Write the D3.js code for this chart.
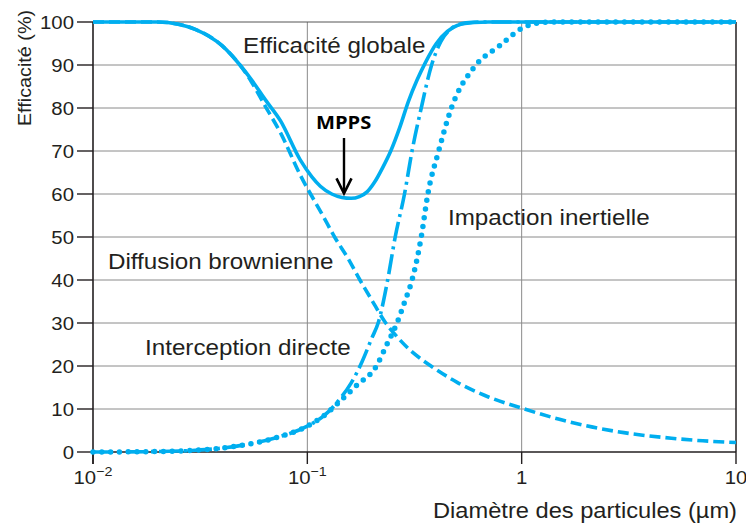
<!DOCTYPE html>
<html><head><meta charset="utf-8">
<script src="https://cdn.jsdelivr.net/npm/d3@7"></script>
<style>
html,body{margin:0;padding:0;background:#fff;}
svg{display:block;}
</style></head>
<body>
<svg id="chart" width="746" height="525"></svg>
<script>
// ---- data (diameter µm, efficiency %) ----
const globale = [[0.01,100],[0.02,100],[0.025,99.5],[0.03,98.3],[0.04,94.5],[0.0485,90],[0.055,86.5],[0.0635,82],[0.075,77],[0.0925,68],[0.105,64],[0.115,61.8],[0.13,60],[0.145,59.2],[0.16,59],[0.175,59.4],[0.19,60.5],[0.205,62.6],[0.225,66.2],[0.245,70],[0.27,75.5],[0.296,81.5],[0.325,86.5],[0.355,90.5],[0.4,95],[0.45,97.8],[0.5,99.2],[0.6,99.9],[0.7,100],[10,100]];
const diffusion = [[0.01,100],[0.02,100],[0.025,99.5],[0.03,98.3],[0.04,94.5],[0.0485,90],[0.055,86],[0.0635,80.5],[0.075,74.2],[0.0925,64.5],[0.119,54.7],[0.134,50],[0.155,45],[0.176,40],[0.2,35.3],[0.23,30.3],[0.26,27],[0.3,23.8],[0.34,21.6],[0.38,19.9],[0.5,16.2],[0.7,12.8],[1,10.2],[1.5,7.6],[2,6.1],[3,4.5],[5,3.2],[7,2.6],[10,2.2]];
const interception = [[0.01,0],[0.02,0.1],[0.03,0.4],[0.04,0.9],[0.05,1.6],[0.07,3.2],[0.1,6],[0.12,8.5],[0.14,12],[0.16,16],[0.18,21],[0.2,26.5],[0.214,30],[0.237,40],[0.257,50],[0.284,60],[0.308,70],[0.34,80],[0.38,90],[0.42,95.5],[0.47,98.5],[0.55,99.8],[0.65,100],[10,100]];
const impaction = [[0.01,0],[0.02,0.1],[0.03,0.4],[0.04,0.9],[0.05,1.6],[0.07,3.2],[0.1,6],[0.12,8.5],[0.14,11.5],[0.17,15.5],[0.21,20],[0.235,25],[0.262,30],[0.285,35],[0.308,40],[0.34,50],[0.365,60],[0.41,70],[0.47,80],[0.6,89.5],[0.79,94.5],[1,98.5],[1.2,99.8],[1.4,100],[10,100]];
const yTicks = [0,10,20,30,40,50,60,70,80,90,100];
const xTicks = [0.01,0.1,1,10];
const xTickBase = ["10","10","1","10"];
const xTickExp = ["\u22122","\u22121","",""];
const mpps = {d:0.16, e:59};

// ---- layout ----
const svg = d3.select("#chart");
const x = d3.scaleLog().domain([0.01,10]).range([93,736]);
const y = d3.scaleLinear().domain([0,100]).range([452,22]);
const blue = "#00aeef", ink = "#231f20", grid = "#8a8a8a";
const FONT = "'Liberation Sans', Arial, sans-serif";
const SX = 1.1;

function label(px, py, txt, size, anchor, weight, rot){
  const g = svg.append("g").attr("transform", `translate(${px},${py})` + (rot ? ` rotate(${rot})` : ""));
  return g.append("text").attr("transform", `scale(${SX},1)`)
    .attr("font-family", FONT).attr("font-size", size).attr("fill", ink)
    .attr("text-anchor", anchor || "start").attr("font-weight", weight || "normal")
    .text(txt);
}

// grid
svg.append("g").selectAll("line").data(yTicks.filter(v=>v>0 && v<100)).join("line")
  .attr("x1", x(0.01)).attr("x2", x(10)).attr("y1", d=>y(d)).attr("y2", d=>y(d))
  .attr("stroke", grid).attr("stroke-width", 1);
svg.append("g").selectAll("line").data([0.1,1]).join("line")
  .attr("x1", d=>x(d)).attr("x2", d=>x(d)).attr("y1", y(0)).attr("y2", y(100))
  .attr("stroke", grid).attr("stroke-width", 1);
// frame top & right
svg.append("line").attr("x1", x(0.01)).attr("x2", x(10)).attr("y1", y(100)).attr("y2", y(100)).attr("stroke", "#555").attr("stroke-width", 1);
svg.append("line").attr("x1", x(10)).attr("x2", x(10)).attr("y1", y(100)).attr("y2", y(0)).attr("stroke", ink).attr("stroke-width", 1.5);

// axes lines
svg.append("line").attr("x1", x(0.01)).attr("x2", x(0.01)).attr("y1", y(100)).attr("y2", y(0)+12).attr("stroke", ink).attr("stroke-width", 1.6);
svg.append("line").attr("x1", x(0.01)).attr("x2", x(10)).attr("y1", y(0)).attr("y2", y(0)).attr("stroke", ink).attr("stroke-width", 1.6);
// y ticks
svg.append("g").selectAll("line").data(yTicks).join("line")
  .attr("x1", x(0.01)-16).attr("x2", x(0.01)).attr("y1", d=>y(d)).attr("y2", d=>y(d))
  .attr("stroke", ink).attr("stroke-width", 1.4);
yTicks.forEach(v => label(x(0.01)-19, y(v)+6.5, String(v), 18.5, "end"));
// x ticks
svg.append("g").selectAll("line").data(xTicks).join("line")
  .attr("x1", d=>x(d)).attr("x2", d=>x(d)).attr("y1", y(0)).attr("y2", y(0)+12)
  .attr("stroke", ink).attr("stroke-width", 1.4);
xTicks.forEach((v,i) => {
  const t = label(x(v), 484, "", 18.5, "middle");
  t.append("tspan").text(xTickBase[i]);
  if (xTickExp[i]) t.append("tspan").attr("font-size", 13).attr("dy", -8).text(xTickExp[i]);
});

// axis titles
label(31, 68, "Efficacité (%)", 18, "middle", "normal", -90);
label(737, 518, "Diamètre des particules (µm)", 21.5, "end");

// curves
const line = d3.line().x(d=>x(d[0])).y(d=>y(d[1])).curve(d3.curveMonotoneX);
svg.append("path").datum(globale).attr("d", line).attr("fill","none")
  .attr("stroke", blue).attr("stroke-width", 3.6);
svg.append("path").datum(diffusion).attr("d", line).attr("fill","none")
  .attr("stroke", blue).attr("stroke-width", 3.6).attr("stroke-dasharray", "11,5");
svg.append("path").datum(interception).attr("d", line).attr("fill","none")
  .attr("stroke", blue).attr("stroke-width", 3.6).attr("stroke-dasharray", "20,5,3,5");
svg.append("path").datum(impaction).attr("d", line).attr("fill","none")
  .attr("stroke", blue).attr("stroke-width", 5.5).attr("stroke-linecap","round").attr("stroke-dasharray", "0,8.8");

// curve labels
label(243, 53, "Efficacité globale", 22);
label(108, 269, "Diffusion brownienne", 22);
label(448, 225, "Impaction inertielle", 22);
label(145, 355, "Interception directe", 22);

// MPPS
svg.append("g").attr("transform", "translate(316,129)")
  .append("text").attr("transform","scale(1.15,1)")
  .attr("font-family", "'Open Sans', sans-serif").attr("font-weight","bold")
  .attr("font-size", 17.5).attr("fill", "#000").text("MPPS");
const ax = 344, tipY = y(mpps.e) - 5;
svg.append("path").attr("d", `M${ax},138 L${ax},${tipY}`).attr("stroke","#000").attr("stroke-width",2.4).attr("fill","none");
svg.append("path").attr("d", `M${ax-7.5},${tipY-15} L${ax},${tipY} L${ax+7.5},${tipY-15}`)
  .attr("stroke","#000").attr("stroke-width",2.6).attr("fill","none");
</script>
</body></html>
